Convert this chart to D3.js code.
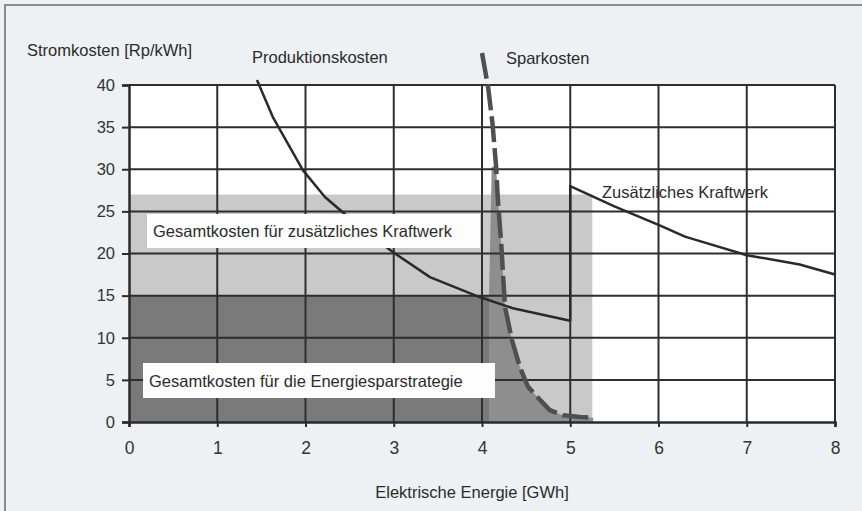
<!DOCTYPE html>
<html>
<head>
<meta charset="utf-8">
<script src="https://cdn.jsdelivr.net/npm/d3@7"></script>
<style>
  body { margin: 0; background: #edf1f4; }
  svg { display: block; font-family: "Liberation Sans", Arial, sans-serif; }
</style>
</head>
<body>
<div id="chart"></div>
<script>
// values
var xTicks = [0, 1, 2, 3, 4, 5, 6, 7, 8];
var yTicks = [0, 5, 10, 15, 20, 25, 30, 35, 40];

// Produktionskosten (solid)
var prodX = [1.45, 1.63, 1.97, 2.22, 2.6, 3.0, 3.41, 3.98, 4.35, 4.96, 5.0];
var prodY = [40.6, 36.2, 29.9, 26.7, 23.3, 20.1, 17.2, 14.8, 13.5, 12.1, 12.0];
// Zusätzliches Kraftwerk (solid, starts with the step at 5 GWh)
var kraftX = [5.0, 5.0, 5.5, 6.02, 6.3, 7.0, 7.6, 8.0];
var kraftY = [12.0, 28.0, 25.6, 23.3, 22.0, 19.8, 18.7, 17.5];
// Sparkosten (dashed)
var sparX = [4.0, 4.07, 4.12, 4.16, 4.18, 4.22, 4.26, 4.34, 4.43, 4.52, 4.66, 4.77, 4.92, 5.11, 5.26];
var sparY = [43.8, 39.7, 35.3, 30.3, 26.4, 20.8, 13.7, 9.7, 6.5, 4.2, 2.6, 1.4, 0.8, 0.6, 0.5];

// shaded areas
var kraftArea = {x0: 0, x1: 5.25, y: 27};
var sparRect = {x0: 0, x1: 4.08, y: 15};
var spikeX = [4.08, 4.08, 4.11, 4.16, 4.18, 4.22, 4.26, 4.34, 4.43, 4.52, 4.66, 4.77, 4.92, 5.11, 5.26, 5.26];
var spikeY = [0, 15, 30.3, 30.3, 26.4, 20.8, 13.7, 9.7, 6.5, 4.2, 2.6, 1.4, 0.8, 0.6, 0.5, 0];

var W = 862, H = 511;
var svg = d3.select("#chart").append("svg").attr("width", W).attr("height", H);

// outer frame
svg.append("rect").attr("x", 0).attr("y", 0).attr("width", W).attr("height", H).attr("fill", "#edf1f4");
svg.append("path").attr("d", "M5," + H + "V5H" + W).attr("fill", "none").attr("stroke", "#6a6a6a").attr("stroke-width", 1.5);

var x = d3.scaleLinear().domain([0, 8]).range([129, 835]);
var y = d3.scaleLinear().domain([0, 40]).range([422, 85]);

// plot background
svg.append("rect").attr("x", x(0)).attr("y", y(40)).attr("width", x(8) - x(0)).attr("height", y(0) - y(40)).attr("fill", "#ffffff");

// light gray area
svg.append("rect")
  .attr("x", x(kraftArea.x0)).attr("y", y(kraftArea.y))
  .attr("width", x(kraftArea.x1) - x(kraftArea.x0)).attr("height", y(0) - y(kraftArea.y))
  .attr("fill", "#c9c9c9");

// dark gray area
svg.append("rect")
  .attr("x", x(sparRect.x0)).attr("y", y(sparRect.y))
  .attr("width", x(sparRect.x1) - x(sparRect.x0)).attr("height", y(0) - y(sparRect.y))
  .attr("fill", "#7a7a7a");

var spike = spikeX.map(function(d, i) { return [d, spikeY[i]]; });
svg.append("path")
  .attr("d", d3.line().x(function(d){ return x(d[0]); }).y(function(d){ return y(d[1]); })(spike) + "Z")
  .attr("fill", "#8e8e8e");

// grid
var grid = svg.append("g").attr("stroke", "#2e2e2e").attr("stroke-width", 2);
grid.selectAll("line.h").data(yTicks.slice(1)).enter().append("line")
  .attr("x1", x(0)).attr("x2", x(8))
  .attr("y1", function(d){ return y(d); }).attr("y2", function(d){ return y(d); });
grid.selectAll("line.v").data(xTicks.slice(1)).enter().append("line")
  .attr("y1", y(0)).attr("y2", y(40))
  .attr("x1", function(d){ return x(d); }).attr("x2", function(d){ return x(d); });

// axes
var yAxis = svg.append("g").attr("transform", "translate(" + x(0) + ",0)")
  .call(d3.axisLeft(y).tickValues(yTicks).tickSize(7).tickPadding(7));
var xAxis = svg.append("g").attr("transform", "translate(0," + y(0) + ")")
  .call(d3.axisBottom(x).tickValues(xTicks).tickSize(5).tickPadding(15));
[xAxis, yAxis].forEach(function(a) {
  a.select(".domain").attr("stroke", "#2a2a2a").attr("stroke-width", 2.5);
  a.selectAll(".tick line").attr("stroke", "#2a2a2a").attr("stroke-width", 2);
  a.selectAll(".tick text").attr("fill", "#333").style("font-size", "16.5px")
    .style("font-family", "'Liberation Sans', Arial, sans-serif");
});
xAxis.selectAll(".tick text").style("font-size", "17.5px");

var line = d3.line().x(function(d){ return x(d[0]); }).y(function(d){ return y(d[1]); });
function pts(xs, ys) { return xs.map(function(d, i){ return [d, ys[i]]; }); }

svg.append("path").attr("d", line(pts(prodX, prodY)))
  .attr("fill", "none").attr("stroke", "#2a2a2a").attr("stroke-width", 2.5).attr("stroke-linejoin", "round");
svg.append("path").attr("d", line(pts(kraftX, kraftY)))
  .attr("fill", "none").attr("stroke", "#2a2a2a").attr("stroke-width", 2.5).attr("stroke-linejoin", "round");
svg.append("path").attr("d", line(pts(sparX, sparY)))
  .attr("fill", "none").attr("stroke", "#4f4f4f").attr("stroke-width", 4.5)
  .attr("stroke-dasharray", "26,6");

// label boxes
var boxes = [
  {x: 147, y: 214, w: 333, h: 34, text: "Gesamtkosten für zusätzliches Kraftwerk", tx: 153, ty: 237},
  {x: 143, y: 363, w: 352, h: 35, text: "Gesamtkosten für die Energiesparstrategie", tx: 149, ty: 387}
];
boxes.forEach(function(b) {
  svg.append("rect").attr("x", b.x).attr("y", b.y).attr("width", b.w).attr("height", b.h).attr("fill", "#fdfdfd");
  svg.append("text").attr("x", b.tx).attr("y", b.ty).text(b.text)
    .attr("fill", "#2b2b2b").style("font-size", "16.5px");
});

// texts
var labels = [
  {t: "Stromkosten [Rp/kWh]", x: 27, y: 56},
  {t: "Produktionskosten", x: 252, y: 63},
  {t: "Sparkosten", x: 506, y: 64},
  {t: "Zusätzliches Kraftwerk", x: 602, y: 198}
];
labels.forEach(function(l) {
  svg.append("text").attr("x", l.x).attr("y", l.y).text(l.t)
    .attr("fill", "#2b2b2b").style("font-size", "16.5px");
});
svg.append("text").attr("x", 472).attr("y", 498).attr("text-anchor", "middle")
  .text("Elektrische Energie [GWh]").attr("fill", "#2b2b2b").style("font-size", "16.5px");
</script>
</body>
</html>
